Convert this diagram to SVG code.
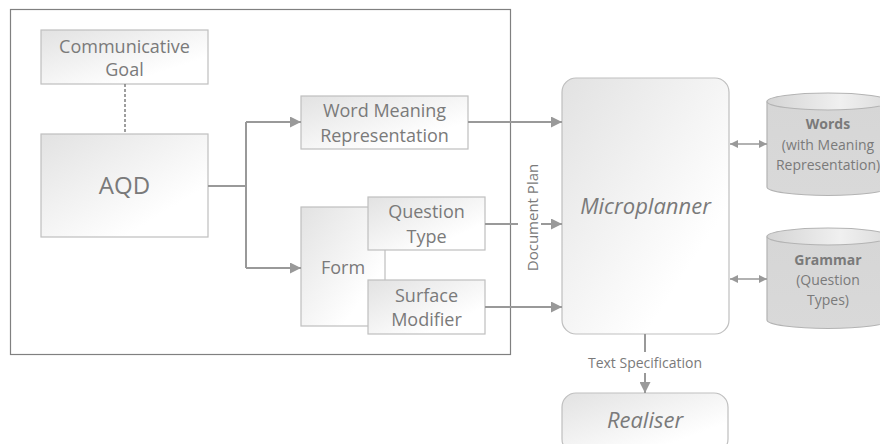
<svg xmlns="http://www.w3.org/2000/svg" width="880" height="444" viewBox="0 0 880 444">
  <defs>
    <linearGradient id="boxFill" x1="0" y1="0" x2="1" y2="1">
      <stop offset="0" stop-color="#e2e2e2"/>
      <stop offset="0.75" stop-color="#ffffff"/>
    </linearGradient>
    <linearGradient id="cylBody" x1="0" y1="0" x2="0" y2="1">
      <stop offset="0" stop-color="#d6d6d6"/>
      <stop offset="1" stop-color="#d9d9d9"/>
    </linearGradient>
    <linearGradient id="cylTop" x1="0" y1="0" x2="1" y2="0">
      <stop offset="0" stop-color="#d4d4d4"/>
      <stop offset="0.6" stop-color="#f0f0f0"/>
      <stop offset="1" stop-color="#dcdcdc"/>
    </linearGradient>
    <marker id="arrow" viewBox="0 0 10 10" refX="10" refY="5" markerWidth="5.5" markerHeight="5.5" orient="auto" markerUnits="strokeWidth">
      <path d="M0,0 L10,5 L0,10 z" fill="#999999"/>
    </marker>
    <marker id="arrowSmall" viewBox="0 0 10 10" refX="10" refY="5" markerWidth="6" markerHeight="6" orient="auto-start-reverse" markerUnits="strokeWidth">
      <path d="M0,0 L10,5 L0,10 z" fill="#999999"/>
    </marker>
  </defs>
  <style>
    text { font-family: "Open Sans", "Liberation Sans", sans-serif; fill: #7a7a7a; }
    .lbl { font-size: 18px; text-anchor: middle; }
    .big { font-size: 24px; text-anchor: middle; }
    .ital { font-size: 22px; font-style: italic; text-anchor: middle; }
    .small { font-size: 14px; text-anchor: middle; }
    .vert { font-size: 15px; text-anchor: middle; }
    .bold { font-weight: bold; }
    .box { fill: url(#boxFill); stroke: #bfbfbf; stroke-width: 1.2; }
    .cyl { fill: url(#cylBody); stroke: #b3b3b3; stroke-width: 1.2; }
    .cylTop { fill: url(#cylTop); stroke: #b3b3b3; stroke-width: 1.2; }
    .conn { fill: none; stroke: #999999; stroke-width: 2; }
    .thin { fill: none; stroke: #999999; stroke-width: 1.4; }
  </style>

  <rect x="0" y="0" width="880" height="444" fill="#ffffff"/>

  <!-- outer frame -->
  <rect id="frame" x="10.5" y="9.5" width="500" height="345" fill="none" stroke="#808080" stroke-width="1.2"/>

  <g id="goal">
    <rect class="box" x="41" y="30" width="167" height="54"/>
    <text class="lbl" x="124.5" y="53">Communicative</text>
    <text class="lbl" x="124.5" y="76">Goal</text>
  </g>

  <g id="aqd">
    <rect class="box" x="41" y="134" width="167" height="103"/>
    <text class="big" x="124.5" y="194">AQD</text>
  </g>

  <g id="wmr">
    <rect class="box" x="301" y="96" width="167" height="53"/>
    <text class="lbl" x="384.5" y="117">Word Meaning</text>
    <text class="lbl" x="384.5" y="142">Representation</text>
  </g>

  <g id="form">
    <rect class="box" x="301" y="207" width="84" height="119"/>
    <text class="lbl" x="343" y="274">Form</text>
  </g>

  <g id="qtype">
    <rect class="box" x="368" y="197" width="117" height="53"/>
    <text class="lbl" x="426.5" y="218">Question</text>
    <text class="lbl" x="426.5" y="243">Type</text>
  </g>

  <g id="surface">
    <rect class="box" x="368" y="280" width="117" height="54"/>
    <text class="lbl" x="426.5" y="302">Surface</text>
    <text class="lbl" x="426.5" y="326">Modifier</text>
  </g>

  <g id="microplanner">
    <rect class="box" x="562" y="78" width="167" height="256" rx="14"/>
    <text class="ital" x="645.5" y="214">Microplanner</text>
  </g>

  <g id="realiser">
    <rect class="box" x="562" y="393" width="166" height="60" rx="14"/>
    <text class="ital" x="645" y="428">Realiser</text>
  </g>

  <g id="words">
    <path class="cyl" d="M767,101.5 L767,187 A61,8.5 0 0 0 889,187 L889,101.5"/>
    <ellipse class="cylTop" cx="828" cy="101.5" rx="61" ry="8.5"/>
    <text class="small bold" x="828" y="129">Words</text>
    <text class="small" x="828" y="150">(with Meaning</text>
    <text class="small" x="828" y="170">Representation)</text>
  </g>

  <g id="grammar">
    <path class="cyl" d="M767,236.5 L767,320 A61,8.5 0 0 0 889,320 L889,236.5"/>
    <ellipse class="cylTop" cx="828" cy="236.5" rx="61" ry="8.5"/>
    <text class="small bold" x="828" y="265">Grammar</text>
    <text class="small" x="828" y="285">(Question</text>
    <text class="small" x="828" y="305">Types)</text>
  </g>

  <g id="connectors">
    <!-- goal to AQD -->
    <line x1="125" y1="84" x2="125" y2="134" stroke="#7f7f7f" stroke-width="1.5" stroke-dasharray="3,2"/>
    <!-- AQD branches -->
    <path class="conn" d="M208,186 H246"/>
    <path class="conn" d="M246,122 V268"/>
    <path class="conn" d="M246,122 H301" marker-end="url(#arrow)"/>
    <path class="conn" d="M246,268 H301" marker-end="url(#arrow)"/>
    <!-- document plan inputs -->
    <path class="conn" d="M468,122 H562" marker-end="url(#arrow)"/>
    <path class="conn" d="M485,224 H518"/>
    <path class="conn" d="M541,224 H562" marker-end="url(#arrow)"/>
    <path class="conn" d="M485,307 H562" marker-end="url(#arrow)"/>
    <!-- resources -->
    <path class="thin" d="M730,144 H767" marker-start="url(#arrowSmall)" marker-end="url(#arrowSmall)"/>
    <path class="thin" d="M730,279 H767" marker-start="url(#arrowSmall)" marker-end="url(#arrowSmall)"/>
    <!-- text specification -->
    <path class="conn" d="M645,334 V352"/>
    <path class="conn" d="M645,373 V393" marker-end="url(#arrow)"/>
    <text class="small" x="645" y="368">Text Specification</text>
    <text class="vert" transform="translate(538,217.5) rotate(-90)">Document Plan</text>
  </g>
</svg>
